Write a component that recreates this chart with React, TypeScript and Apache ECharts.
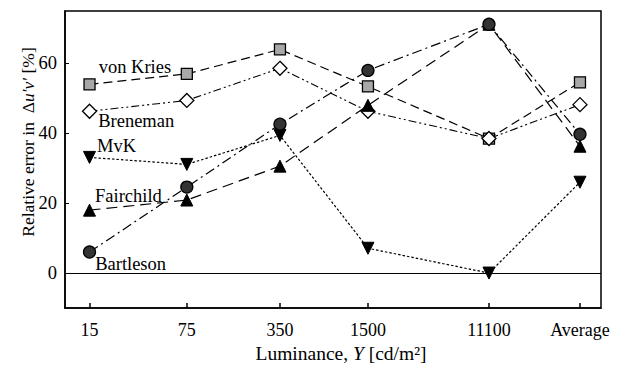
import React, { useEffect, useRef } from "react";
import * as echarts from "echarts";

const categories = ["15", "75", "350", "1500", "11100", "Average"];
// luminance values (Average placed on the log axis beyond the last level)
const luminance = [15, 75, 350, 1500, 11100, 50000];
const yTicks = [0, 20, 40, 60];

const vonKries = [54, 57, 64, 53.4, 38.5, 54.6];
const breneman = [46.3, 49.4, 58.6, 46.3, 38.5, 48.2];
const mvk = [33.1, 31.1, 39.4, 7.1, 0, 26];
const fairchild = [18, 20.9, 30.6, 48, 71.2, 36.3];
const bartleson = [6, 24.6, 42.6, 58, 71.2, 39.7];

const FONT = "Liberation Serif, DejaVu Serif, serif";

export default function App() {
  const ref = useRef<HTMLDivElement>(null);
  useEffect(() => {
    const chart = echarts.init(ref.current!, null, { renderer: "svg" });
    const xs = luminance.map((v) => Math.log10(v));
    const mk = (vals: number[]) => vals.map((v, i) => [xs[i], v]);
    const labelFor = (val: number) => {
      let best = 0;
      xs.forEach((x, i) => {
        if (Math.abs(x - val) < Math.abs(xs[best] - val)) best = i;
      });
      return categories[best];
    };
    const seriesLabel = (text: string, offset: number[]) => ({
      show: true,
      position: "right",
      distance: 0,
      offset,
      formatter: text,
      color: "#000",
      fontFamily: FONT,
      fontSize: 18.5,
    });
    const withLabel = (vals: number[], text: string, offset: number[]) => {
      const d: any[] = mk(vals);
      d[0] = { value: d[0], label: seriesLabel(text, offset) };
      return d;
    };
    const base = {
      type: "line",
      symbolSize: 11,
      z: 3,
      label: { show: false },
    };
    chart.setOption({
      animation: false,
      backgroundColor: "#fff",
      textStyle: { fontFamily: FONT },
      grid: {
        left: 65,
        right: 24,
        top: 11,
        bottom: 73,
        show: true,
        borderColor: "#000",
        borderWidth: 1.5,
      },
      xAxis: {
        type: "value",
        min: 1,
        max: 4.85,
        name: "Luminance, {i|Y} [cd/m²]",
        nameLocation: "middle",
        nameGap: 27,
        nameTextStyle: {
          fontFamily: FONT,
          fontSize: 19.5,
          color: "#000",
          padding: [0, 0, 0, 16],
          rich: {
            i: { fontFamily: FONT, fontSize: 19.5, fontStyle: "italic", color: "#000" },
          },
        },
        axisLine: { show: true, onZero: false, lineStyle: { color: "#000", width: 1.5 } },
        axisTick: {
          show: true,
          inside: true,
          length: 5,
          customValues: xs,
          lineStyle: { color: "#000", width: 1.5 },
        },
        axisLabel: {
          customValues: xs,
          formatter: (v: number) => labelFor(v),
          fontFamily: FONT,
          fontSize: 18,
          color: "#000",
          margin: 13,
        },
        splitLine: { show: false },
      },
      yAxis: {
        type: "value",
        min: -10,
        max: 75,
        axisLine: { show: true, onZero: false, lineStyle: { color: "#000", width: 1.5 } },
        axisTick: {
          show: true,
          inside: true,
          length: 4,
          customValues: yTicks,
          lineStyle: { color: "#000", width: 1 },
        },
        axisLabel: {
          customValues: yTicks,
          fontFamily: FONT,
          fontSize: 18.5,
          color: "#000",
          margin: 8,
        },
        splitLine: { show: false },
      },
      graphic: [
        {
          type: "text",
          x: 28,
          y: 142,
          rotation: Math.PI / 2,
          style: {
            text: "{a|Relative error in  Δ}{i|u′v′}{a| [%]}",
            align: "center",
            verticalAlign: "middle",
            fill: "#000",
            rich: {
              a: { fontFamily: FONT, fontSize: 17.5, fill: "#000" },
              i: { fontFamily: FONT, fontSize: 17.5, fontStyle: "italic", fill: "#000" },
            },
          },
        },
      ],
      series: [
        {
          ...base,
          name: "von Kries",
          data: withLabel(vonKries, "von Kries", [3, -17]),
          symbol: "rect",
          symbolSize: 11,
          itemStyle: { color: "#a8a8a8", borderColor: "#000", borderWidth: 1.3 },
          lineStyle: { color: "#000", width: 1.2, type: [9, 5] },
          markLine: {
            silent: true,
            symbol: "none",
            label: { show: false },
            lineStyle: { color: "#000", width: 1, type: "solid" },
            data: [{ yAxis: 0 }],
          },
        },
        {
          ...base,
          name: "Breneman",
          data: withLabel(breneman, "Breneman", [1, 10]),
          symbol: "diamond",
          symbolSize: 14,
          itemStyle: { color: "#fff", borderColor: "#000", borderWidth: 1.3 },
          lineStyle: { color: "#000", width: 1.1, type: [8, 3, 2, 3, 2, 3] },
        },
        {
          ...base,
          name: "MvK",
          data: withLabel(mvk, "MvK", [1, -11]),
          symbol: "triangle",
          symbolRotate: 180,
          symbolSize: 12,
          itemStyle: { color: "#000", borderColor: "#000", borderWidth: 1 },
          lineStyle: { color: "#000", width: 1.2, type: [2.5, 2] },
        },
        {
          ...base,
          name: "Fairchild",
          data: withLabel(fairchild, "Fairchild", [-1, -14]),
          symbol: "triangle",
          symbolSize: 12,
          itemStyle: { color: "#000", borderColor: "#000", borderWidth: 1 },
          lineStyle: { color: "#000", width: 1.2, type: [11, 6] },
        },
        {
          ...base,
          name: "Bartleson",
          data: withLabel(bartleson, "Bartleson", [-1, 12]),
          symbol: "circle",
          symbolSize: 12,
          itemStyle: { color: "#333", borderColor: "#000", borderWidth: 1.3 },
          lineStyle: { color: "#000", width: 1.2, type: [10, 4, 2, 4] },
        },
      ],
    } as any);
    return () => chart.dispose();
  }, []);
  return (
    <div
      ref={ref}
      style={{ position: "absolute", left: 0, top: 0, width: 625, height: 381 }}
    />
  );
}
